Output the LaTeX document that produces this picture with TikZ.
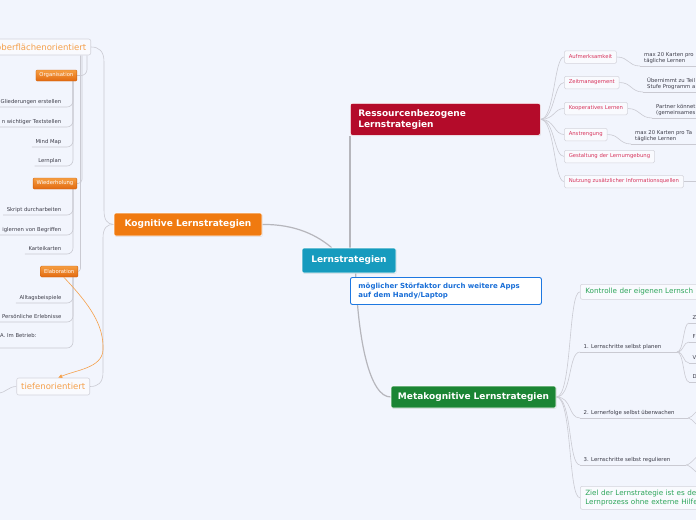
\documentclass[tikz,border=0pt]{standalone}
\usepackage{fontspec}
\setmainfont{DejaVu Sans}
\usetikzlibrary{calc,shadows,arrows.meta}
\pgfdeclarelayer{back}
\pgfsetlayers{back,main}
\definecolor{bgc}{RGB}{242,245,253}
\definecolor{tealc}{RGB}{22,155,190}
\definecolor{crimc}{RGB}{180,11,42}
\definecolor{grnc}{RGB}{27,133,52}
\definecolor{orc}{RGB}{240,122,16}
\definecolor{otop}{RGB}{246,158,66}
\definecolor{obot}{RGB}{226,106,16}
\definecolor{lorange}{RGB}{245,160,75}
\definecolor{pinkc}{RGB}{215,50,90}
\definecolor{greenc}{RGB}{45,165,90}
\definecolor{bluec}{RGB}{30,120,225}
\definecolor{bluetext}{RGB}{25,110,215}
\definecolor{connc}{RGB}{202,202,210}
\definecolor{mainc}{RGB}{182,182,188}
\definecolor{leafc}{RGB}{60,60,72}
\definecolor{boxc}{RGB}{212,212,220}
\newcommand\myfs[2]{\fontsize{#1}{#2}\selectfont}
\begin{document}
\begin{tikzpicture}[x=1pt,y=-1pt,
  conn/.style={draw=connc, line width=0.6pt},
  mainconn/.style={draw=mainc, line width=1.2pt},
  mainbox/.style={rounded corners=2pt, draw=white, line width=0.6pt, text=white,
    font=\myfs{9}{11}\bfseries, inner sep=0pt,
    drop shadow={opacity=0.2, shadow xshift=0.6pt, shadow yshift=-0.8pt}},
  pinkbox/.style={anchor=west, rounded corners=1.5pt, draw=boxc, line width=0.5pt,
    fill=white!55!bgc, text=pinkc, font=\myfs{5.3}{6.5}, inner xsep=4.5pt,
    inner ysep=0pt, minimum height=12.5pt},
  minibox/.style={anchor=east, rounded corners=1pt, top color=otop, bottom color=obot,
    draw=obot!90!black, line width=0.3pt, text=white, font=\myfs{5.3}{6.5},
    inner xsep=3.5pt, inner ysep=0pt, minimum height=11pt},
  lbox/.style={anchor=east, rounded corners=2pt, draw=boxc, line width=0.6pt,
    fill=white!55!bgc, text=lorange, font=\myfs{8.5}{10}, inner xsep=4.5pt,
    inner ysep=0pt},
  leaf/.style={font=\myfs{5.3}{6.5}, text=leafc, inner xsep=3.5pt, inner ysep=2.5pt,
    text height=3.8pt, text depth=1.2pt},
  rleaf/.style={anchor=south west, font=\myfs{5.3}{6.5}, text=leafc, align=left,
    inner xsep=4pt, inner ysep=2pt},
  gbox/.style={anchor=north west, rounded corners=2pt, draw=boxc, line width=0.6pt,
    fill=white!55!bgc, text=greenc, font=\myfs{7.2}{9}, inner xsep=5pt,
    inner ysep=0pt, text width=130pt, align=left},
  arrowc/.style={draw=lorange, line width=0.6pt}
]
\useasboundingbox (0,0) rectangle (696,520);
\coordinate (ex) at (702,0);

% ---------- main nodes ----------
\node[mainbox, fill=tealc, minimum width=94pt, minimum height=25pt] (lern) at (349,260.5) {Lernstrategien};
\node[mainbox, fill=crimc, anchor=north west, minimum height=32pt, text width=174pt,
  inner xsep=8pt, align=left] (ress) at (350,103) {Ressourcenbezogene\\Lernstrategien};
\node[anchor=north west, rounded corners=2pt, draw=bluec, line width=0.9pt, fill=white,
  text=bluetext, font=\myfs{7}{9}\bfseries, minimum height=27pt, text width=175pt,
  inner xsep=8pt, inner ysep=0pt, align=left] (stoer) at (350,277)
  {möglicher Störfaktor durch weitere Apps\\auf dem Handy/Laptop};
\node[mainbox, fill=grnc, minimum width=165pt, minimum height=22pt] (meta) at (473.5,397) {Metakognitive Lernstrategien};
\node[mainbox, fill=orc, minimum width=148pt, minimum height=23pt] (kog) at (188,224.5) {Kognitive Lernstrategien};

% ---------- Ressourcen children ----------
\node[pinkbox] (auf) at (564,57) {Aufmerksamkeit};
\node[pinkbox] (zeit) at (564,82.5) {Zeitmanagement};
\node[pinkbox] (koop) at (564,108.5) {Kooperatives Lernen};
\node[pinkbox] (anst) at (564,134.5) {Anstrengung};
\node[pinkbox] (gest) at (564,156.5) {Gestaltung der Lernumgebung};
\node[pinkbox] (nutz) at (564,181.5) {Nutzung zusätzlicher Informationsquellen};

\node[rleaf] (auf2) at (640,66) {max 20 Karten pro\\tägliche Lernen};
\node[rleaf] (zeit2) at (643,92) {Übernimmt zu Teil\\Stufe Programm a};
\node[rleaf] (koop2) at (652,118) {Partner könnet\\(gemeinsames};
\node[rleaf] (anst2) at (631,144) {max 20 Karten pro Ta\\tägliche Lernen};

% ---------- Metakognitive children ----------
\node[gbox, minimum height=15pt] (kontr) at (580,284) {Kontrolle der eigenen Lernsch};
\node[gbox, minimum height=23pt] (ziel) at (580,486) {Ziel der Lernstrategie ist es den\\Lernprozess ohne externe Hilfe};
\node[leaf, anchor=south west, font=\myfs{5.4}{6.5}] (m1) at (580,352) {1. Lernschritte selbst planen};
\node[leaf, anchor=south west, font=\myfs{5.4}{6.5}] (m2) at (580,418) {2. Lernerfolge selbst überwachen};
\node[leaf, anchor=south west, font=\myfs{5.4}{6.5}] (m3) at (580,465) {3. Lernschritte selbst regulieren};
\coordinate (m1e) at (677,352);
\coordinate (m2e) at (688,418);
\coordinate (m3e) at (686,465);
\node[leaf, anchor=south west] (lz) at (689,323) {Z};
\node[leaf, anchor=south west] (lf) at (689,342) {F};
\node[leaf, anchor=south west] (lv) at (689,363) {V};
\node[leaf, anchor=south west] (ld) at (689,382) {D};
\coordinate (m2a) at (702,408);
\coordinate (m2b) at (702,428);
\coordinate (m3a) at (702,454);
\coordinate (m3b) at (702,475);

% ---------- Kognitive children ----------
\node[lbox, minimum height=16pt] (ober) at (91,47) {oberflächenorientiert};
\node[lbox, minimum height=17pt] (tief) at (90,386.5) {tiefenorientiert};
\coordinate (tiefl) at (-2,393);

\node[minibox] (org) at (77,75.5) {Organisation};
\node[minibox] (wied) at (77,183.5) {Wiederholung};
\node[minibox] (elab) at (78,271.5) {Elaboration};

\node[leaf, anchor=south east] (g1) at (65,107) {Gliederungen erstellen};
\node[leaf, anchor=south east] (g2) at (65,127) {n wichtiger Textstellen};
\node[leaf, anchor=south east] (g3) at (65,147) {Mind Map};
\node[leaf, anchor=south east] (g4) at (65,166) {Lernplan};
\node[leaf, anchor=south east] (w1) at (65,215) {Skript durcharbeiten};
\node[leaf, anchor=south east] (w2) at (65,235) {iglernen von Begriffen};
\node[leaf, anchor=south east] (w3) at (65,254) {Karteikarten};
\node[leaf, anchor=south east] (e1) at (65,303) {Alltagsbeispiele};
\node[leaf, anchor=south east] (e2) at (65,322) {Persönliche Erlebnisse};
\node[leaf, anchor=south west, text depth=8.1pt] (e3) at (-3.5,348) {A. Im Betrieb:};

% ---------- connectors ----------
\begin{pgfonlayer}{back}
\fill[bgc] (0,0) rectangle (696,520);
% main
\draw[mainconn] (ress.south west |- lern.north) -- (ress.south west);
\draw[mainconn] (kog.east) .. controls (296,224) and (318,236) .. ($(lern.north west)+(30,0)$);
\draw[mainconn] ($(lern.south west)+(54,0)$) .. controls (358,342) and (370,397) .. (meta.west);
% Ressourcen fan
\foreach \n in {auf,zeit,koop,anst,gest,nutz}
  \draw[conn] (ress.east) .. controls +(14,0) and +(-10,0) .. (\n.west);
\foreach \a/\b in {auf/auf2,zeit/zeit2,koop/koop2,anst/anst2}{
  \draw[conn] (\a.east) .. controls +(12,0) and +(-12,0) .. (\b.south west);
  \draw[conn] (\b.south west) -- (ex |- \b.south west);
}
\draw[conn] (nutz.east) -- (ex |- nutz.east);
% Metakognitive fan
\foreach \n in {kontr.west, m1.south west, m2.south west, m3.south west, ziel.west}
  \draw[conn] (meta.east) .. controls +(16,0) and +(-12,0) .. (\n);
\draw[conn] (m1.south west) -- (m1e);
\draw[conn] (m2.south west) -- (m2e);
\draw[conn] (m3.south west) -- (m3e);
\foreach \n in {lz,lf,lv,ld}{
  \draw[conn] (m1e) .. controls +(7,0) and +(-6,0) .. (\n.south west);
  \draw[conn] (\n.south west) -- (ex |- \n.south west);
}
\draw[conn] (m2e) .. controls +(5,0) and +(-5,0) .. (m2a);
\draw[conn] (m2e) .. controls +(5,0) and +(-5,0) .. (m2b);
\draw[conn] (m3e) .. controls +(5,0) and +(-5,0) .. (m3a);
\draw[conn] (m3e) .. controls +(5,0) and +(-5,0) .. (m3b);
% Kognitive
\draw[conn] (kog.west) .. controls (107,224) and (104,220) .. (104,210) -- (104,62)
  .. controls (104,51) and (99,47) .. (ober.east);
\draw[conn] (kog.west) .. controls (107,224) and (103,228) .. (103,238) -- (103,372)
  .. controls (103,383) and (98,386.5) .. (tief.east);
\draw[conn] (tief.west) .. controls (8,386.5) and (6,393) .. (tiefl);
\draw[conn, rounded corners=6pt] ($(ober.south east)+(-4,0)$) |- (org.east);
\draw[conn, rounded corners=4pt] ($(ober.south east)+(-9,0)$) |- (wied.east);
\draw[conn, rounded corners=3pt] ($(ober.south east)+(-10.5,0)$) |- (elab.east);
\foreach \n in {g1,g2,g3,g4}
  \draw[conn, rounded corners=6pt] ($(org.south east)+(-4,0)$) |- (\n.south west);
\foreach \n in {w1,w2,w3}
  \draw[conn, rounded corners=6pt] ($(wied.south east)+(-4,0)$) |- (\n.south west);
\foreach \n in {e1,e2}
  \draw[conn, rounded corners=6pt] ($(elab.south east)+(-5,0)$) |- (\n.south west);
\draw[conn, rounded corners=6pt] ($(elab.south east)+(-5,0)$) |- ($(e3.south west)+(0,0)$);
\end{pgfonlayer}

% relation arrow
\draw[arrowc, -{Triangle[length=4pt,width=3.5pt]}] ($(elab.south)+(4.5,0)$)
  .. controls (90,305) and (104,325) .. (103,350)
  .. controls (102,368) and (76,370) .. ($(tief.north)+(5,0)$);
\end{tikzpicture}
\end{document}
